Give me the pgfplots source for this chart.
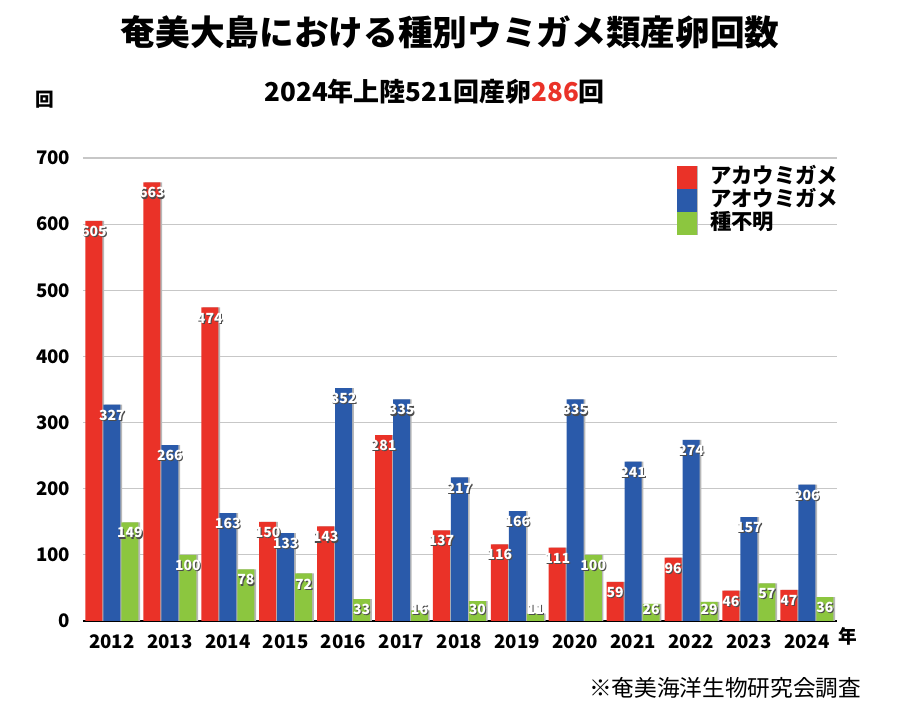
\documentclass[border=0pt]{standalone}
\usepackage{fontspec}
\setmainfont{Noto Sans CJK JP}
\usepackage{pgfplots}
\pgfplotsset{compat=1.18}
\definecolor{cred}{RGB}{234,50,40}
\definecolor{cblue}{RGB}{42,90,170}
\definecolor{cgreen}{RGB}{140,198,63}
\newcommand\sh[1]{\makebox[0pt][l]{\hspace{0.8pt}\raisebox{-0.8pt}{\textcolor{black!70}{#1}}}\textcolor{white}{#1}}
\pgfplotsset{mylegend/.style={legend image code/.code={\fill[##1] (0pt,-8.6pt) rectangle (15pt,8.6pt);}}}
\begin{document}
\begin{tikzpicture}
\path[use as bounding box] (0,0) rectangle (681.75pt,526.5pt);
\begin{axis}[
  at={(62.25pt,60.75pt)}, anchor=south west,
  scale only axis, width=565.5pt, height=347.25pt,
  xmin=-0.5, xmax=12.52, ymin=0, ymax=700,
  ybar=0.75pt, bar width=12.75pt,
  xtick={0,...,12},
  xticklabels={2012,2013,2014,2015,2016,2017,2018,2019,2020,2021,2022,2023,2024},
  ytick={0,100,...,700},
  ymajorgrids, grid style={black!22, line width=0.9pt},
  axis x line*=bottom, axis y line*=left,
  y axis line style={draw=none},
  x axis line style={-, black, line width=1.1pt},
  major tick length=0pt,
  tick label style={font=\fontsize{14}{16}\selectfont\bfseries},
  /pgf/number format/assume math mode=true,
  yticklabel style={xshift=-6pt},
  xticklabel style={yshift=-7pt},
  visualization depends on={y \as \yval},
  nodes near coords={\sh{\pgfmathprintnumber{\pgfplotspointmeta}}},
  every node near coord/.append style={anchor=center,
     yshift={(max(\yval-16.6,16.6)-\yval)*0.49607pt}, inner sep=0pt,
     font=\fontsize{10.5}{11}\selectfont\bfseries},
  legend style={at={(0.787,0.983)}, anchor=north west, draw=none, fill=none,
     inner sep=0pt, row sep=0pt, column sep=10pt,
     font=\fontsize{16}{16}\selectfont\bfseries,
     nodes={inner sep=0pt, text height=12.9pt, text depth=4.35pt}},
  legend cell align=left,
  every axis plot/.append style={preaction={fill=black!28, transform canvas={xshift=1.3pt}}},
]
\addplot[fill=cred, draw=none, mylegend] coordinates {
 (0,605) (1,663) (2,474) (3,150) (4,143) (5,281) (6,137) (7,116) (8,111) (9,59) (10,96) (11,46) (12,47)};
\addplot[fill=cblue, draw=none, mylegend] coordinates {
 (0,327) (1,266) (2,163) (3,133) (4,352) (5,335) (6,217) (7,166) (8,335) (9,241) (10,274) (11,157) (12,206)};
\addplot[fill=cgreen, draw=none, mylegend] coordinates {
 (0,149) (1,100) (2,78) (3,72) (4,33) (5,16) (6,30) (7,11) (8,100) (9,26) (10,29) (11,57) (12,36)};
\legend{アカウミガメ,アオウミガメ,種不明}
\end{axis}
\node[font=\fontsize{26}{30}\selectfont\bfseries] at (337.5pt,502.5pt) {奄美大島における種別ウミガメ類産卵回数};
\node[font=\fontsize{19.5}{22}\selectfont\bfseries] at (326pt,457.5pt) {2024年上陸521回産卵\textcolor{cred}{286}回};
\node[font=\fontsize{14}{16}\selectfont\bfseries] at (33.75pt,451.5pt) {回};
\node[font=\fontsize{14}{16}\selectfont\bfseries] at (636pt,49.5pt) {年};
\node[font=\fontsize{17}{19}\selectfont] at (543.75pt,10.5pt) {※奄美海洋生物研究会調査};
\end{tikzpicture}
\end{document}
